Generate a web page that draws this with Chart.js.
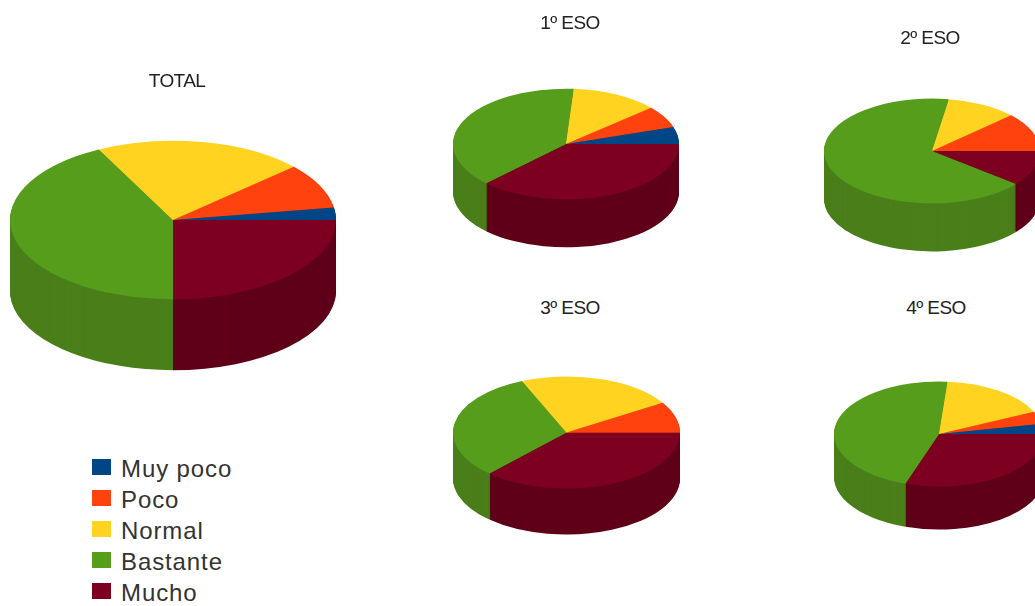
<!DOCTYPE html>
<html>
<head>
<meta charset="utf-8">
<title>Encuesta ESO</title>
<script src="https://cdn.jsdelivr.net/npm/chart.js@4/dist/chart.umd.min.js"></script>
<style>
html, body { margin: 0; padding: 0; background: #fff; }
body { position: relative; width: 1035px; height: 606px; overflow: hidden; font-family: "Liberation Sans", sans-serif; color: #222; }
canvas { position: absolute; }
.title { position: absolute; transform: translateX(-50%); font-size: 19px; letter-spacing: -0.6px; white-space: nowrap; line-height: 20px; }
.key { position: absolute; left: 92px; width: 19px; height: 16px; }
.keytext { position: absolute; left: 121px; font-size: 24px; letter-spacing: 0.9px; line-height: 26px; color: #333; }
</style>
</head>
<body>
<script>
// legend order, drawn anticlockwise from the east like the original
const categories = ["Muy poco", "Poco", "Normal", "Bastante", "Mucho"];
const colors = ["#004586", "#ff420e", "#ffd320", "#579d1c", "#7e0021"];
const sideColors = ["#003a70", "#d8380c", "#d8b31b", "#4a7f1a", "#5f0018"];

const totalValues = [2.5, 9.2, 20.8, 42.5, 25];
const eso1Values = [5, 6.4, 12.5, 38.6, 37.5];
const eso2Values = [0, 11.9, 10.6, 66.7, 10.8];
const eso3Values = [0, 8.9, 22.5, 31.7, 36.9];
const eso4Values = [3.1, 3.9, 16.7, 46.1, 30.2];

const pies = [
	{ title: "TOTAL", values: totalValues, cx: 172.5, cy: 219.5, r: 163, squash: 0.486, depth: 71, titleX: 177, titleY: 71 },
	{ title: "1º ESO", values: eso1Values, cx: 566, cy: 144, r: 113, squash: 0.49, depth: 48, titleX: 570, titleY: 13 },
	{ title: "2º ESO", values: eso2Values, cx: 932, cy: 151, r: 108, squash: 0.486, depth: 48, titleX: 930, titleY: 28 },
	{ title: "3º ESO", values: eso3Values, cx: 566.5, cy: 432, r: 113.5, squash: 0.493, depth: 46, titleX: 570, titleY: 298 },
	{ title: "4º ESO", values: eso4Values, cx: 939, cy: 433.5, r: 105, squash: 0.5, depth: 43, titleX: 936, titleY: 298 },
];

// squashes the pie into an ellipse and stacks darker copies of the slices under it
const pie3d = {
	id: "pie3d",
	beforeDatasetsDraw(chart, args, opts) {
		const ctx = chart.ctx;
		const arcs = chart.getDatasetMeta(0).data;
		const mid = chart.height / 2;
		ctx.save();
		ctx.translate(0, mid);
		ctx.scale(1, opts.squash);
		ctx.translate(0, -mid);
		for (let d = opts.depth; d > 0; d--) {
			ctx.save();
			ctx.translate(0, d / opts.squash);
			arcs.forEach((arc, i) => {
				const layer = Object.create(arc);
				layer.options = Object.assign({}, arc.options, { backgroundColor: opts.side[i] });
				layer.draw(ctx);
			});
			ctx.restore();
		}
	},
	afterDatasetsDraw(chart) {
		chart.ctx.restore();
	},
};

// chart.js goes clockwise, so the arrays are reversed to run anticlockwise
const rev = (a) => a.slice().reverse();

pies.forEach((p) => {
	const canvas = document.createElement("canvas");
	canvas.width = p.r * 2;
	canvas.height = p.r * 2;
	canvas.style.left = p.cx - p.r + "px";
	canvas.style.top = p.cy - p.r + "px";
	document.body.appendChild(canvas);

	new Chart(canvas, {
		type: "pie",
		plugins: [pie3d],
		data: {
			labels: rev(categories),
			datasets: [{ data: rev(p.values), backgroundColor: rev(colors), borderWidth: 0, clip: false }],
		},
		options: {
			responsive: false,
			animation: false,
			events: [],
			rotation: 90,
			layout: { padding: 0 },
			plugins: {
				legend: { display: false },
				tooltip: { enabled: false },
				pie3d: { squash: p.squash, depth: p.depth, side: rev(sideColors) },
			},
		},
	});

	const t = document.createElement("div");
	t.className = "title";
	t.textContent = p.title;
	t.style.left = p.titleX + "px";
	t.style.top = p.titleY + "px";
	document.body.appendChild(t);
});

const keyTops = [459, 490, 521, 552, 583];
categories.forEach((name, i) => {
	const k = document.createElement("div");
	k.className = "key";
	k.style.top = keyTops[i] + "px";
	k.style.background = colors[i];
	document.body.appendChild(k);
	const t = document.createElement("div");
	t.className = "keytext";
	t.textContent = name;
	t.style.top = keyTops[i] - 3 + "px";
	document.body.appendChild(t);
});
</script>
</body>
</html>
